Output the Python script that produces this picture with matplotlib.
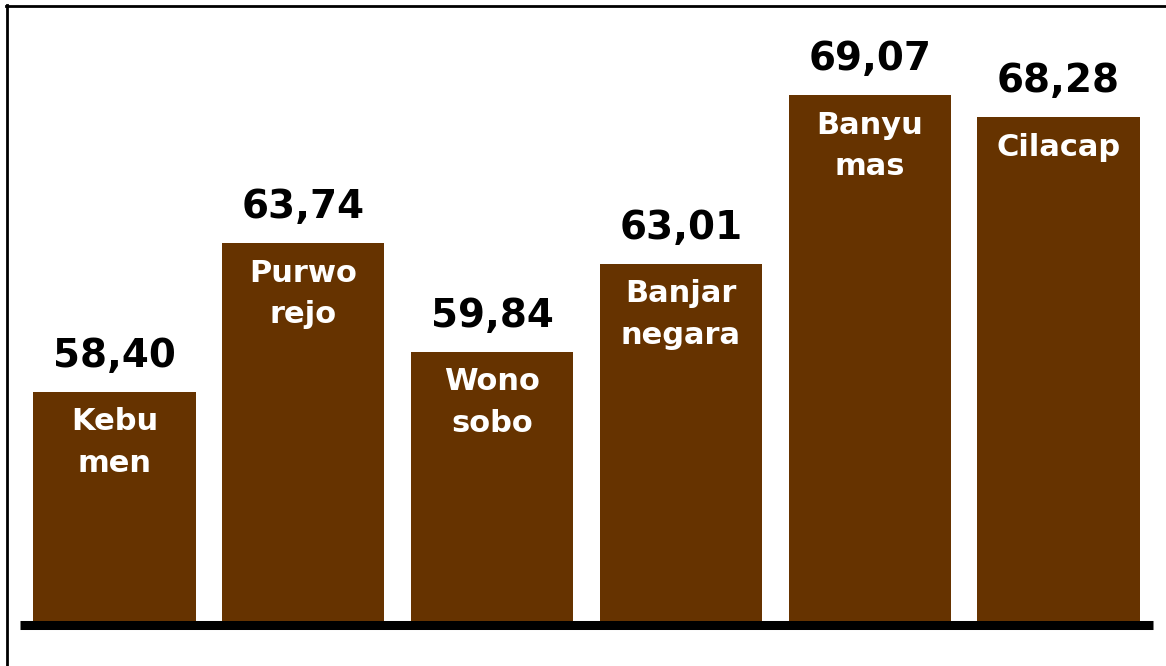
import matplotlib
matplotlib.use('Agg')
import matplotlib.pyplot as plt
from matplotlib.lines import Line2D

# kabupaten names (split over two lines inside the bars) and their values
regions = ['Kebu\nmen', 'Purwo\nrejo', 'Wono\nsobo', 'Banjar\nnegara', 'Banyu\nmas', 'Cilacap']
values = [58.40, 63.74, 59.84, 63.01, 69.07, 68.28]
value_labels = ['58,40', '63,74', '59,84', '63,01', '69,07', '68,28']

plt.rcParams['font.family'] = ['DejaVu Sans']

fig = plt.figure(figsize=(11.66, 6.66), dpi=100)
ax = fig.add_axes([20/1166, 1 - 625/666, 1133/1166, 625/666])

x = list(range(len(values)))
ax.bar(x, [v - 50 for v in values], bottom=50, width=0.86, color='#663300', zorder=2)

for i, v in enumerate(values):
    ax.annotate(value_labels[i], (i, v), xytext=(0, 18), textcoords='offset points',
                ha='center', va='baseline', fontsize=28, fontweight='bold', color='black')
    ax.annotate(regions[i], (i, v), xytext=(0, -11), textcoords='offset points',
                ha='center', va='top', fontsize=22, fontweight='bold', color='white',
                linespacing=1.55)

ax.set_xlim(-0.5, 5.5)
ax.set_ylim(50, 72.5)
for s in ['top', 'right', 'left']:
    ax.spines[s].set_visible(False)
ax.spines['bottom'].set_linewidth(6.5)
ax.spines['bottom'].set_capstyle('butt')
ax.spines['bottom'].set_zorder(3)
ax.set_xticks([])
ax.set_yticks([])

# outer frame, top and left edges
fig.add_artist(Line2D([6/1166, 1], [1 - 5.5/666, 1 - 5.5/666], color='black', lw=2,
                      transform=fig.transFigure))
fig.add_artist(Line2D([6.5/1166, 6.5/1166], [0, 1 - 5/666], color='black', lw=2,
                      transform=fig.transFigure))

fig.savefig('out.png', dpi=100)
